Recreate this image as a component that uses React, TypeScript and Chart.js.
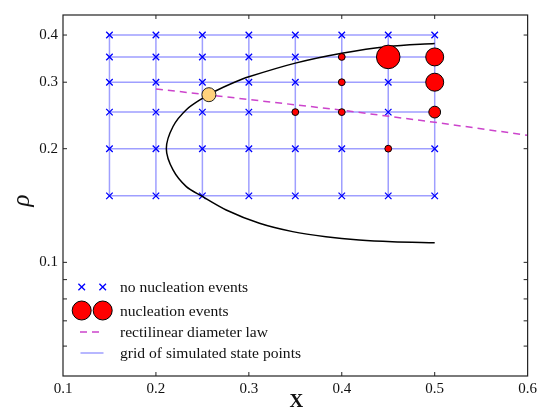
import React, { useEffect, useRef } from 'react';
import { Chart, registerables } from 'chart.js';

Chart.register(...registerables);

// ---------------- data ----------------
const gridX = [0.15, 0.2, 0.25, 0.3, 0.35, 0.4, 0.45, 0.5];
const gridY = [0.15, 0.2, 0.25, 0.3, 0.35, 0.4];

const nucX = [0.4, 0.4, 0.35, 0.4, 0.45, 0.5, 0.5, 0.5, 0.45];
const nucY = [0.35, 0.3, 0.25, 0.25, 0.2, 0.25, 0.3, 0.35, 0.35];
const nucCount = [1, 1, 1, 1, 1, 3, 7, 7, 12];

const criticalX = [0.257];
const criticalY = [0.278];

const binodalX = [0.5, 0.45, 0.4, 0.35, 0.3, 0.2827, 0.263, 0.2505, 0.233, 0.2184, 0.2112, 0.2184, 0.2327, 0.2488, 0.2756, 0.3114, 0.3471, 0.3829, 0.4187, 0.4544, 0.5];
const binodalY = [0.38, 0.373, 0.358, 0.337, 0.31, 0.2985, 0.2835, 0.2723, 0.254, 0.229, 0.2, 0.1757, 0.1587, 0.15, 0.1376, 0.1269, 0.1206, 0.1169, 0.1146, 0.1134, 0.1127];

const diameterX = [0.2, 0.3, 0.4, 0.5, 0.6];
const diameterY = [0.288, 0.27, 0.253, 0.235, 0.217];

const xTicks = [0.1, 0.2, 0.3, 0.4, 0.5, 0.6];
const xTickLabels = ['0.1', '0.2', '0.3', '0.4', '0.5', '0.6'];
const yTicks = [0.06, 0.07, 0.08, 0.09, 0.1, 0.2, 0.3, 0.4];
const yTickLabels = ['', '', '', '', '0.1', '0.2', '0.3', '0.4'];

const legendLabels = [
  'no nucleation events',
  'nucleation events',
  'rectilinear diameter law',
  'grid of simulated state points',
];

const xTitle = 'X';
const yTitle = 'ρ';

// ---------------- styles ----------------
const SERIF = '"Liberation Serif", "DejaVu Serif", serif';
const GRID_COLOR = '#9f9fff';
const CROSS_COLOR = '#0000ff';
const DIAM_COLOR = '#cc44cc';
const RED = '#ff0000';
const YELLOW = '#ffd27c';
const DASH = [7, 5];

const bubbleRadius = (c: number) => 3.4 * Math.sqrt(c);

const framePlugin = {
  id: 'frameAndLegend',
  afterDraw(chart: any) {
    const { ctx, chartArea: a, scales } = chart;
    const xs = scales.x;
    const ys = scales.y;
    ctx.save();
    // frame
    ctx.strokeStyle = '#222';
    ctx.lineWidth = 1.2;
    ctx.strokeRect(a.left, a.top, a.right - a.left, a.bottom - a.top);
    // inward ticks
    const tl = 4;
    ctx.lineWidth = 1;
    ctx.beginPath();
    xTicks.forEach((v) => {
      const px = xs.getPixelForValue(v);
      if (px <= a.left + 1 || px >= a.right - 1) return;
      ctx.moveTo(px, a.bottom);
      ctx.lineTo(px, a.bottom - tl);
      ctx.moveTo(px, a.top);
      ctx.lineTo(px, a.top + tl);
    });
    yTicks.forEach((v) => {
      const py = ys.getPixelForValue(v);
      if (py <= a.top + 1 || py >= a.bottom - 1) return;
      ctx.moveTo(a.left, py);
      ctx.lineTo(a.left + tl, py);
      ctx.moveTo(a.right, py);
      ctx.lineTo(a.right - tl, py);
    });
    ctx.stroke();

    // legend
    const lx1 = a.left + 18.7;
    const lx2 = a.left + 39.7;
    const tx = a.left + 57;
    const rows = [a.bottom - 89, a.bottom - 65.5, a.bottom - 44, a.bottom - 23];
    // crosses
    ctx.strokeStyle = CROSS_COLOR;
    ctx.lineWidth = 1.3;
    [lx1, lx2].forEach((cx) => {
      const d = 3.3;
      ctx.beginPath();
      ctx.moveTo(cx - d, rows[0] - d);
      ctx.lineTo(cx + d, rows[0] + d);
      ctx.moveTo(cx + d, rows[0] - d);
      ctx.lineTo(cx - d, rows[0] + d);
      ctx.stroke();
    });
    // red circles
    [lx1, lx2].forEach((cx) => {
      ctx.beginPath();
      ctx.arc(cx, rows[1], 9.5, 0, Math.PI * 2);
      ctx.fillStyle = RED;
      ctx.fill();
      ctx.strokeStyle = '#000';
      ctx.lineWidth = 1;
      ctx.stroke();
    });
    // dashed
    ctx.strokeStyle = DIAM_COLOR;
    ctx.lineWidth = 1.5;
    ctx.setLineDash(DASH);
    ctx.beginPath();
    ctx.moveTo(a.left + 17, rows[2]);
    ctx.lineTo(a.left + 38, rows[2]);
    ctx.stroke();
    ctx.setLineDash([]);
    // blue line
    ctx.strokeStyle = GRID_COLOR;
    ctx.lineWidth = 1.5;
    ctx.beginPath();
    ctx.moveTo(a.left + 17.5, rows[3]);
    ctx.lineTo(a.left + 40.5, rows[3]);
    ctx.stroke();
    // texts
    ctx.fillStyle = '#111';
    ctx.font = `15.6px ${SERIF}`;
    ctx.textAlign = 'left';
    ctx.textBaseline = 'middle';
    legendLabels.forEach((t, i) => ctx.fillText(t, tx, rows[i] + 1));

    // axis titles
    ctx.font = `bold 19px ${SERIF}`;
    ctx.textAlign = 'center';
    ctx.textBaseline = 'middle';
    ctx.fillText(xTitle, (a.left + a.right) / 2 + 1, 402);
    ctx.save();
    ctx.translate(22, (a.top + a.bottom) / 2 + 5);
    ctx.rotate(-Math.PI / 2);
    ctx.font = `italic 25px ${SERIF}`;
    ctx.fillText(yTitle, 0, 0);
    ctx.restore();
    ctx.restore();
  },
};

export default function App() {
  const ref = useRef<HTMLCanvasElement | null>(null);

  useEffect(() => {
    if (!ref.current) return;

    const gridLines: any[] = [];
    gridX.forEach((gx) => {
      gridLines.push({ x: gx, y: gridY[0] }, { x: gx, y: gridY[gridY.length - 1] }, { x: gx, y: null });
    });
    gridY.forEach((gy) => {
      gridLines.push({ x: gridX[0], y: gy }, { x: gridX[gridX.length - 1], y: gy }, { x: gridX[0], y: null });
    });
    const crosses: any[] = [];
    gridX.forEach((gx) =>
      gridY.forEach((gy) => {
        const hasEvent = nucX.some((nx, i) => Math.abs(nx - gx) < 1e-9 && Math.abs(nucY[i] - gy) < 1e-9);
        if (!hasEvent) crosses.push({ x: gx, y: gy });
      })
    );

    const chart = new Chart(ref.current, {
      type: 'scatter',
      data: {
        datasets: [
          {
            type: 'line',
            label: 'grid',
            data: gridLines,
            borderColor: GRID_COLOR,
            borderWidth: 1.5,
            pointRadius: 0,
            spanGaps: false,
            order: 6,
          } as any,
          {
            type: 'scatter',
            label: 'no nucleation',
            data: crosses,
            pointStyle: 'crossRot',
            pointRadius: 4.6,
            borderColor: CROSS_COLOR,
            borderWidth: 1.3,
            order: 5,
          },
          {
            type: 'line',
            label: 'binodal',
            data: binodalX.map((x, i) => ({ x, y: binodalY[i] })),
            borderColor: '#000',
            borderWidth: 1.5,
            pointRadius: 0,
            tension: 0.3,
            order: 4,
          } as any,
          {
            type: 'line',
            label: 'diameter',
            data: diameterX.map((x, i) => ({ x, y: diameterY[i] })),
            borderColor: DIAM_COLOR,
            borderWidth: 1.5,
            borderDash: DASH,
            pointRadius: 0,
            order: 3,
          } as any,
          {
            type: 'bubble',
            label: 'nucleation',
            data: nucX.map((x, i) => ({ x, y: nucY[i], r: bubbleRadius(nucCount[i]) })),
            backgroundColor: RED,
            borderColor: '#000',
            borderWidth: 1,
            order: 2,
          } as any,
          {
            type: 'scatter',
            label: 'critical',
            data: criticalX.map((x, i) => ({ x, y: criticalY[i] })),
            pointRadius: 7,
            backgroundColor: YELLOW,
            borderColor: '#222',
            borderWidth: 1,
            order: 1,
          },
        ],
      },
      options: {
        animation: false,
        responsive: false,
        events: [],
        layout: { padding: { left: 0, top: 15, right: 12, bottom: 0 } },
        plugins: { legend: { display: false }, tooltip: { enabled: false } },
        scales: {
          x: {
            type: 'linear',
            min: 0.1,
            max: 0.6,
            afterBuildTicks: (s: any) => {
              s.ticks = xTicks.map((v) => ({ value: v }));
            },
            afterFit: (s: any) => {
              s.height = 32;
            },
            grid: { display: false, drawTicks: false },
            border: { display: false },
            ticks: {
              autoSkip: false,
              maxRotation: 0,
              padding: 4,
              color: '#111',
              font: { family: SERIF, size: 15 },
              callback: (v: any) => {
                const i = xTicks.findIndex((t) => Math.abs(t - Number(v)) < 1e-9);
                return i >= 0 ? xTickLabels[i] : '';
              },
            },
          },
          y: {
            type: 'logarithmic',
            min: 0.05,
            max: 0.452,
            afterBuildTicks: (s: any) => {
              s.ticks = yTicks.map((v) => ({ value: v }));
            },
            afterFit: (s: any) => {
              s.width = 63;
            },
            grid: { display: false, drawTicks: false },
            border: { display: false },
            ticks: {
              autoSkip: false,
              padding: 5,
              color: '#111',
              font: { family: SERIF, size: 15 },
              callback: (v: any) => {
                const i = yTicks.findIndex((t) => Math.abs(t - Number(v)) < 1e-9);
                return i >= 0 ? yTickLabels[i] : '';
              },
            },
          },
        },
      },
      plugins: [framePlugin],
    });

    return () => chart.destroy();
  }, []);

  return (
    <div style={{ position: 'absolute', left: 0, top: 0, width: 541, height: 408, background: '#fff' }}>
      <canvas ref={ref} width={541} height={408} style={{ width: 541, height: 408, display: 'block' }} />
    </div>
  );
}
